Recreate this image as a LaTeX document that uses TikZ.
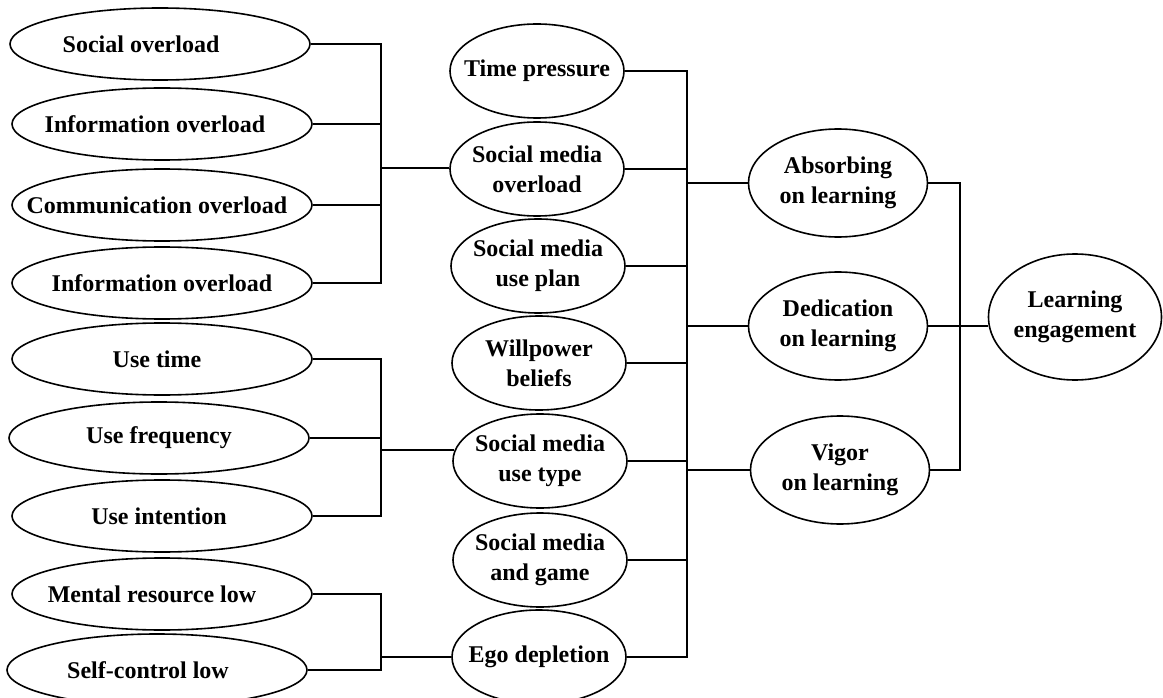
\documentclass[tikz,border=0pt]{standalone}
\usepackage{fontspec}
\setmainfont{Liberation Serif}
\usetikzlibrary{shapes.geometric}
\begin{document}
\begin{tikzpicture}[x=1pt,y=-1pt]
\tikzset{
  txt/.style={inner sep=0pt, align=center, font=\fontsize{24}{30}\selectfont\bfseries},
  ovalshape/.style={ellipse, draw, line width=1.6pt, inner sep=0pt},
  oval/.style={ovalshape, label={[txt]center:#1}},
  leftshape/.style={ovalshape, minimum width=300pt, minimum height=72pt},
  leftoval/.style={oval=#1, minimum width=300pt, minimum height=72pt},
  midoval/.style={oval=#1, minimum width=174pt, minimum height=94pt},
  rightoval/.style={oval=#1, minimum width=179pt, minimum height=108pt},
  link/.style={line width=1.7pt},
  heavylink/.style={line width=2.8pt},
}
\useasboundingbox (0,0) rectangle (1163,698);
% left column
\node[leftshape, label={[txt,xshift=-19pt]center:Social overload}]    (so)  at (160,44)  {};
\node[leftshape, label={[txt,xshift=-7pt]center:Information overload}] (io)  at (162,124) {};
\node[leftshape, label={[txt,xshift=-5pt]center:Communication overload}] (co)  at (162,205) {};
\node[leftoval={Information overload}]   (io2) at (162,283) {};
\node[leftshape, label={[txt,xshift=-5pt]center:Use time}]            (ut)  at (162,359) {};
\node[leftoval={Use frequency}]          (uf)  at (159,438) {};
\node[leftshape, label={[txt,xshift=-3pt]center:Use intention}]       (ui)  at (162,516) {};
\node[leftshape, label={[txt,xshift=-10pt]center:Mental resource low}] (mr)  at (162,594) {};
\node[leftshape, label={[txt,xshift=-9pt]center:Self-control low}]     (sc)  at (157,670) {};
% middle column
\node[midoval={Time pressure}]           (tp)  at (537,71)  {};
\node[midoval={Social media\\overload}]  (smo) at (537,169) {};
\node[midoval={Social media\\use plan}]  (sup) at (538,266) {};
\node[midoval={Willpower\\beliefs}]      (wb)  at (539,363) {};
\node[midoval={Social media\\use type}]  (sut) at (540,461) {};
\node[midoval={Social media\\and game}]  (smg) at (540,560) {};
\node[midoval={Ego depletion}]           (ego) at (539,657) {};
% right columns
\node[rightoval={Absorbing\\on learning}]  (abs) at (838,183) {};
\node[rightoval={Dedication\\on learning}] (ded) at (838,326) {};
\node[rightoval={Vigor\\on learning}]      (vig) at (840,470) {};
\node[oval={Learning\\engagement}, minimum width=173pt, minimum height=126pt] (le) at (1075,317) {};
% bracket coordinates
\coordinate (b1) at (381,168);
\coordinate (b2) at (381,450);
\coordinate (b3) at (381,657);
\coordinate (mb) at (687,657);
\coordinate (rb) at (960,326);
% bracket 1
\draw[link] (so.east) -- (so.east -| b1) |- (io2.east);
\draw[link] (io.east) -- (io.east -| b1);
\draw[link] (co.east) -- (co.east -| b1);
\draw[heavylink] (b1) -- (b1 -| smo.west);
% bracket 2
\draw[link] (ut.east) -- (ut.east -| b2) |- (ui.east);
\draw[link] (uf.east) -- (uf.east -| b2);
\draw[heavylink] (b2) -- ([xshift=2pt]b2 -| sut.west);
% bracket 3
\draw[link] (mr.east) -- (mr.east -| b3) |- (sc.east);
\draw[heavylink] (b3) -- (b3 -| ego.west);
% middle bracket
\draw[link] (tp.east) -- (tp.east -| mb) -- (mb) -- (ego.east);
\draw[link] (smo.east) -- (smo.east -| mb);
\draw[link] (sup.east) -- (sup.east -| mb);
\draw[link] (wb.east) -- (wb.east -| mb);
\draw[link] (sut.east) -- (sut.east -| mb);
\draw[link] (smg.east) -- (smg.east -| mb);
\draw[link] (abs.west -| mb) -- (abs.west);
\draw[heavylink] (ded.west -| mb) -- (ded.west);
\draw[link] (vig.west -| mb) -- (vig.west);
% right bracket
\draw[link] (abs.east) -- (abs.east -| rb) |- (vig.east);
\draw[link] (ded.east) -- (rb);
\draw[heavylink] (rb) -- (rb -| le.west);
\end{tikzpicture}
\end{document}
